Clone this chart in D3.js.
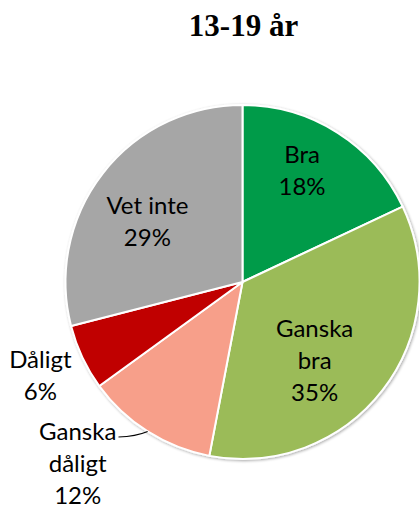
<!DOCTYPE html>
<html>
<head>
<meta charset="utf-8">
<script src="https://cdn.jsdelivr.net/npm/d3@7"></script>
<style>
  html, body { margin: 0; padding: 0; background: #fff; }
  svg { display: block; }
</style>
</head>
<body>
<svg id="chart" width="419" height="508"></svg>
<script>
// Answer shares for the 13-19 age group
const categories = ["Bra", "Ganska bra", "Ganska dåligt", "Dåligt", "Vet inte"];
const shares = [18, 35, 12, 6, 29];
const labelLines = [["Bra"], ["Ganska", "bra"], ["Ganska", "dåligt"], ["Dåligt"], ["Vet inte"]];
const title = "13-19 år";

const colors = ["#009B48", "#9BBB59", "#F79F8A", "#C00000", "#A6A6A6"];

// Label placement: radius factor from centre, then a nudge in px
const labelLayout = [
  { k: 0.68, dx: -5, dy: -10 },
  { k: 0.68, dx: -23, dy: 5 },
  { k: 1.0, dx: -70, dy: 32 },
  { k: 1.0, dx: -42, dy: 18 },
  { k: 0.68, dx: 0, dy: 13 }
];

const W = 419, H = 508;
const cx = 242.5, cy = 282, R = 177;
const lineH = 32;

const svg = d3.select("#chart");

// soft shadow under the pie
const defs = svg.append("defs");
const f = defs.append("filter").attr("id", "sh").attr("x", "-10%").attr("y", "-10%").attr("width", "120%").attr("height", "120%");
f.append("feGaussianBlur").attr("in", "SourceAlpha").attr("stdDeviation", 1.5).attr("result", "b");
f.append("feOffset").attr("in", "b").attr("dx", 0.5).attr("dy", 0.8).attr("result", "o");
f.append("feComponentTransfer").attr("in", "o").attr("result", "o2")
  .append("feFuncA").attr("type", "linear").attr("slope", 0.35);
const m = f.append("feMerge");
m.append("feMergeNode").attr("in", "o2");
m.append("feMergeNode").attr("in", "SourceGraphic");

svg.append("text")
  .attr("x", cx + 1).attr("y", 36)
  .attr("text-anchor", "middle")
  .style("font-family", "'Liberation Serif', 'Times New Roman', serif")
  .style("font-weight", "bold")
  .style("font-size", "31px")
  .text(title);

const pie = d3.pie().sort(null).value(d => d)(shares);
const arc = d3.arc().innerRadius(0).outerRadius(R);

const g = svg.append("g").attr("transform", `translate(${cx},${cy})`);

g.append("g").attr("filter", "url(#sh)")
  .selectAll("path")
  .data(pie)
  .join("path")
  .attr("d", arc)
  .attr("fill", (d, i) => colors[i])
  .attr("stroke", "#fff")
  .attr("stroke-width", 2)
  .attr("stroke-linejoin", "round");

// leader line for the small salmon slice
{
  const d = pie[2];
  const a = (d.startAngle + d.endAngle) / 2;
  const ex = Math.sin(a) * R, ey = -Math.cos(a) * R;
  const lx = -124, ly = 155;
  g.append("path")
    .attr("d", `M${ex},${ey} Q${ex - 12},${ey + 5} ${lx},${ly}`)
    .attr("fill", "none")
    .attr("stroke", "#000")
    .attr("stroke-width", 1.2);
}

const labels = g.selectAll("g.lbl")
  .data(pie)
  .join("g")
  .attr("class", "lbl")
  .attr("transform", (d, i) => {
    const a = (d.startAngle + d.endAngle) / 2;
    const L = labelLayout[i];
    const x = Math.sin(a) * R * L.k + L.dx;
    const y = -Math.cos(a) * R * L.k + L.dy;
    return `translate(${x},${y})`;
  });

labels.each(function (d, i) {
  const lines = labelLines[i].concat([d.data + "%"]);
  const t = d3.select(this).append("text")
    .attr("text-anchor", "middle")
    .style("font-family", "Lato, 'Open Sans', sans-serif")
    .style("font-size", "24px")
    .attr("fill", "#000");
  const y0 = -(lines.length - 1) * lineH / 2;
  lines.forEach((s, j) => {
    t.append("tspan")
      .attr("x", 0)
      .attr("y", y0 + j * lineH)
      .attr("dy", "0.35em")
      .text(s);
  });
});
</script>
</body>
</html>
